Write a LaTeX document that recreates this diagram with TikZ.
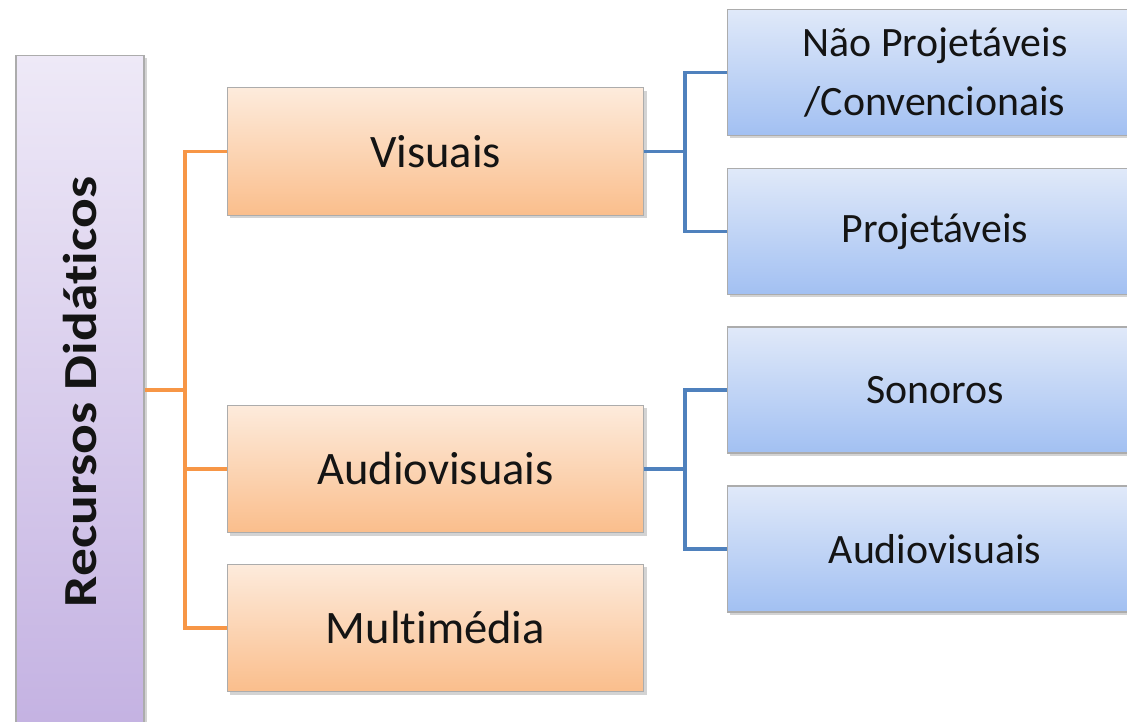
\documentclass[tikz,border=0pt]{standalone}
\usepackage{fontspec}
\setmainfont{Carlito}[RawFeature={-liga;-clig;-dlig}]
\usepackage{graphicx}
\usepackage{tikz}
\usetikzlibrary{shadows}
\definecolor{orangetop}{RGB}{253,235,220}
\definecolor{orangebot}{RGB}{250,190,140}
\definecolor{bluetop}{RGB}{224,233,249}
\definecolor{bluebot}{RGB}{162,192,242}
\definecolor{roottop}{RGB}{238,233,247}
\definecolor{rootbot}{RGB}{196,178,226}
\definecolor{orangeline}{RGB}{247,150,70}
\definecolor{blueline}{RGB}{79,129,189}
\definecolor{inkgray}{RGB}{20,20,20}

\begin{document}
\begin{tikzpicture}[x=0.02cm,y=-0.02cm]
    \tikzset{box/.style = {shape=rectangle, draw=gray!65, line width=0.6pt, text=inkgray, align=center,
        drop shadow={opacity=0.35, shadow xshift=0.06cm, shadow yshift=-0.06cm}}}
    \tikzset{rootbox/.style = {box, top color=roottop, bottom color=rootbot, minimum width=2.56cm, minimum height=13.48cm,
        font=\fontsize{27}{32}\selectfont\bfseries}}
    \tikzset{midbox/.style = {box, top color=orangetop, bottom color=orangebot, minimum width=8.34cm, minimum height=2.55cm,
        font=\fontsize{26.5}{32}\selectfont}}
    \tikzset{leafbox/.style = {box, top color=bluetop, bottom color=bluebot, minimum width=8.32cm, minimum height=2.52cm,
        font=\fontsize{23.8}{34}\selectfont}}
    \tikzset{oedge/.style = {draw=orangeline, line width=1.9pt}}
    \tikzset{bedge/.style = {draw=blueline, line width=1.9pt}}

    \useasboundingbox (0,0) rectangle (1127,722);
    \clip (0,0) rectangle (1127,722);

    % vertices
    \node[rootbox] (root) at (80,392) {\rotatebox{90}{\scalebox{1.17}[1]{Recursos Didát\kern0pt icos}}};
    \node[midbox] (visuais) at (435.5,151.5) {Visuais};
    \node[midbox] (audio) at (435.5,469) {Audiovisuais};
    \node[midbox] (multi) at (435.5,628) {Mult\kern0pt imédia};
    \node[leafbox] (nproj) at (935,72.5) {Não Projetáveis\\/Convencionais};
    \node[leafbox] (proj) at (935,231.5) {Projetáveis};
    \node[leafbox] (sonoros) at (935,390) {Sonoros};
    \node[leafbox] (audiob) at (935,549) {Audiovisuais};

    \coordinate (jo) at (185,390);
    \coordinate (jv) at (685,151.5);
    \coordinate (ja) at (685,469);

    % edges
    \draw[oedge] (root.east |- jo) -- (jo);
    \draw[oedge] (visuais.west) -| (jo) |- (multi.west);
    \draw[oedge] (audio.west) -- (jo |- audio);
    \draw[bedge] (visuais.east) -- (jv);
    \draw[bedge] (nproj.west) -| (jv) |- (proj.west);
    \draw[bedge] (audio.east) -- (ja);
    \draw[bedge] (sonoros.west) -| (ja) |- (audiob.west);
\end{tikzpicture}
\end{document}
